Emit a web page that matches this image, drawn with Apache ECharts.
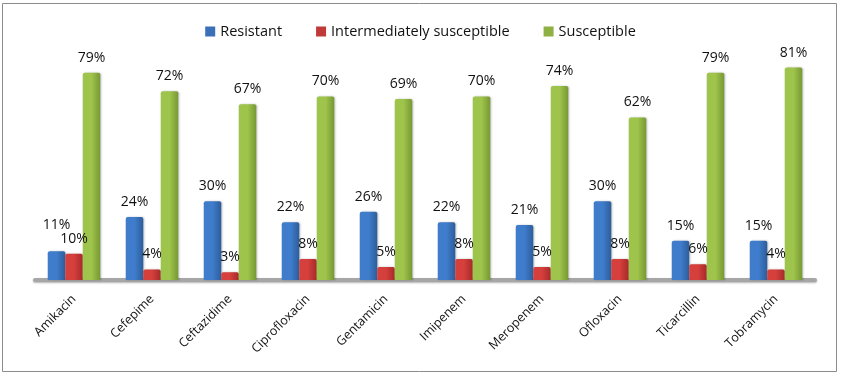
<!DOCTYPE html>
<html><head><meta charset="utf-8">
<script src="https://cdn.jsdelivr.net/npm/echarts@6/dist/echarts.min.js"></script>
<style>html,body{margin:0;padding:0;background:#fff}#c{width:841px;height:377px}</style>
</head><body><div id="c"></div>
<script>
const categories = ['Amikacin','Cefepime','Ceftazidime','Ciprofloxacin','Gentamicin','Imipenem','Meropenem','Ofloxacin','Ticarcillin','Tobramycin'];
const resistant = [11,24,30,22,26,22,21,30,15,15];
const intermediate = [10,4,3,8,5,8,5,8,6,4];
const susceptible = [79,72,67,70,69,70,74,62,79,81];
const seriesNames = ['Resistant','Intermediately susceptible','Susceptible'];

function grad(a,b){return new echarts.graphic.LinearGradient(0,0,1,0,[{offset:0,color:a},{offset:0.5,color:a},{offset:1,color:b}]);}
const colors = [grad('#3f7dcc','#2d5d9b'), grad('#d53f3c','#a52b29'), grad('#9fc44b','#779834')];
const legendColors = ['#3a70b8','#c03b38','#8fb043'];
const font = '"Open Sans", "Noto Sans", sans-serif';
const chart = echarts.init(document.getElementById('c'));
const mk = (name,data,i)=>({
  name, type:'bar', barWidth:17.5, barGap:'0%',
  data: data.map((v,k)=> (i===0 && k===0) ? {value:v, label:{distance:19}} : v),
  itemStyle:{color:colors[i], borderRadius:[2,2,0,0], shadowColor:'rgba(0,0,0,0.25)', shadowBlur:2, shadowOffsetX:1},
  label:{show:true, position:'top', distance:8, formatter:'{c}%', fontFamily:font, fontSize:14, color:'#111'}
});
chart.setOption({
  animation:false,
  graphic:[{type:'rect', shape:{x:2.5,y:3.5,width:834,height:368}, style:{fill:'none', stroke:'#8c8c8c', lineWidth:1}, silent:true}],
  legend:{top:19, left:'center', itemGap:34, itemWidth:10, itemHeight:10, icon:'rect',
    textStyle:{fontFamily:font, fontSize:14.5, color:'#111'},
    data:seriesNames.map((n,i)=>({name:n, itemStyle:{color:legendColors[i]}}))},
  grid:{left:35, right:26, top:44, bottom:97},
  xAxis:{type:'category', data:categories,
    axisLine:{lineStyle:{color:'#a6a6a6', width:4, shadowColor:'rgba(0,0,0,0.3)', shadowBlur:2, shadowOffsetY:1}},
    axisTick:{show:false},
    axisLabel:{rotate:45, fontFamily:font, fontSize:12.5, color:'#111', margin:17}},
  yAxis:{type:'value', min:0, max:90, show:false, splitLine:{show:false}},
  series:[mk(seriesNames[0],resistant,0), mk(seriesNames[1],intermediate,1), mk(seriesNames[2],susceptible,2)]
});
</script></body></html>
